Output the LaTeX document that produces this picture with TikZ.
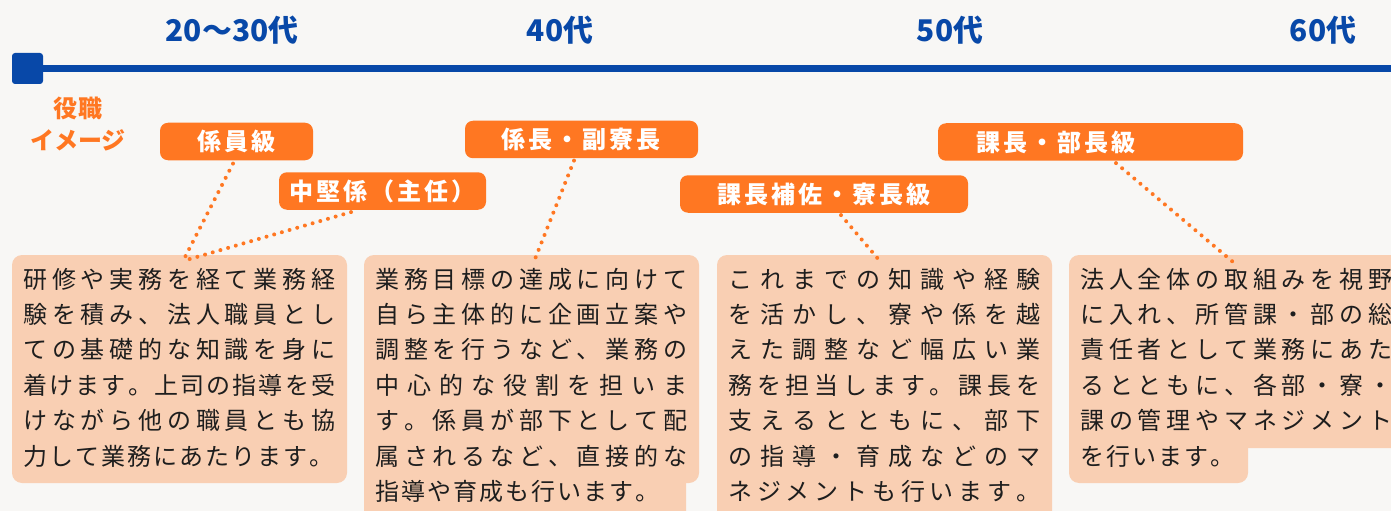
\documentclass[tikz,border=0pt]{standalone}
\usepackage{fontspec}
\setmainfont{Noto Sans CJK JP}

\definecolor{bgc}{HTML}{F8F7F5}
\definecolor{ageblue}{HTML}{0848A8}
\definecolor{roleorange}{HTML}{FF7722}
\definecolor{descpeach}{HTML}{F9CFB3}
\definecolor{desctext}{HTML}{1E1E1E}

\newdimen\chsp
\def\sprd#1#2\relax{#1\ifx\relax#2\relax\else\hskip\chsp plus 1fil\sprd#2\relax\fi}
\newcommand\fl[1]{\hbox to 6.24cm{\sprd#1\relax}}
\newcommand\natline[1]{\hbox{\sprd#1\relax}}

\tikzset{
  age/.style={text=ageblue, font=\fontsize{17pt}{20pt}\selectfont\bfseries},
  role/.style={fill=roleorange, rounded corners=0.16cm, text=white, inner sep=0pt, minimum height=0.75cm,
    font=\fontsize{13.66pt}{16pt}\selectfont\bfseries\setlength\chsp{0.06cm}},
  desc/.style={text=desctext, inner sep=0pt, font=\fontsize{13.66pt}{20.2pt}\selectfont\setlength\chsp{0.04cm}},
  descbox/.style={fill=descpeach, rounded corners=0.2cm},
  dots/.style={roleorange, line width=0.08cm, line cap=round, dash pattern=on 0pt off 0.16cm},
}

\begin{document}
\begin{tikzpicture}
  \useasboundingbox (0cm,0cm) rectangle (27.82cm,-10.22cm);
  \clip (0cm,0cm) rectangle (27.82cm,-10.22cm);
  \fill[bgc] (0cm,0cm) rectangle (27.82cm,-10.22cm);

  \node[fill=ageblue, rounded corners=0.06cm, minimum size=0.62cm, inner sep=0pt] (start) at (0.55cm,-1.37cm) {};
  \coordinate (tend) at (27.9cm,-1.37cm);
  \draw[ageblue, line width=0.14cm] (start.east) -- (tend);

  \node[age] (a20) at (4.64cm,-0.6cm) {20〜30代};
  \node[age] (a40) at (11.2cm,-0.6cm) {40代};
  \node[age] (a50) at (19cm,-0.6cm) {50代};
  \node[age] (a60) at (26.46cm,-0.6cm) {60代};

  \node[text=roleorange, align=center, font=\fontsize{13.66pt}{18.2pt}\selectfont\bfseries] (yakushoku) at (1.56cm,-2.48cm) {役職\\イメージ};

  \fill[descbox] (0.24cm,-5.1cm) rectangle (6.94cm,-9.66cm);
  \fill[descbox] (7.28cm,-5.1cm) rectangle (13.98cm,-9.66cm);
  \fill[descbox] (7.28cm,-9.3cm) rectangle (13.72cm,-10.6cm);
  \fill[descbox] (14.34cm,-5.1cm) rectangle (21.04cm,-10.6cm);
  \fill[descbox] (21.38cm,-5.1cm) rectangle (28.08cm,-8.96cm);
  \fill[descbox] (21.38cm,-8.6cm) rectangle (24.96cm,-9.66cm);

  \node[role, minimum width=3.06cm] (kakari) at (4.73cm,-2.83cm) {\natline{係員級}};
  \node[role, minimum width=4.14cm] (chuken) at (7.65cm,-3.82cm) {\natline{中堅係（主任）}};
  \node[role, minimum width=4.66cm] (kakaricho) at (11.63cm,-2.79cm) {\natline{係長・副寮長}};
  \node[role, minimum width=5.76cm] (hosa) at (16.48cm,-3.88cm) {\natline{課長補佐・寮長級}};
  \node[role, minimum width=6.1cm] (kacho) at (21.81cm,-2.84cm) {\natline{課長・部長級}\hspace*{1.38cm}};

  \coordinate (j1) at (3.66cm,-5.22cm);
  \coordinate (j2) at (10.7cm,-5.18cm);
  \coordinate (j3) at (17.58cm,-5.2cm);
  \coordinate (j4) at (24.66cm,-5.24cm);
  \draw[dots] ([xshift=-0.07cm,yshift=-0.06cm]kakari.south) -- (j1);
  \draw[dots] ([xshift=-0.63cm,yshift=-0.04cm]chuken.south) -- (j1);
  \draw[dots] ([xshift=-0.15cm,yshift=-0.04cm]kakaricho.south) -- (j2);
  \draw[dots] ([xshift=0.34cm,yshift=-0.04cm]hosa.south) -- (j3);
  \draw[dots] ([xshift=0.51cm,yshift=-0.04cm]kacho.south) -- (j4);

  \node[desc, anchor=base west] (d1) at (0.46cm,-5.76cm) {\vtop{%
    \fl{研修や実務を経て業務経}\fl{験を積み、法人職員とし}\fl{ての基礎的な知識を身に}%
    \fl{着けます。上司の指導を受}\fl{けながら他の職員とも協}\natline{力して業務にあたります。}}};
  \node[desc, anchor=base west] (d2) at (7.5cm,-5.76cm) {\vtop{%
    \fl{業務目標の達成に向けて}\fl{自ら主体的に企画立案や}\fl{調整を行うなど、業務の}%
    \fl{中心的な役割を担いま}\fl{す。係員が部下として配}\fl{属されるなど、直接的な}\natline{指導や育成も行います。}}};
  \node[desc, anchor=base west] (d3) at (14.56cm,-5.76cm) {\vtop{%
    \fl{これまでの知識や経験}\fl{を活かし、寮や係を越}\fl{えた調整など幅広い業}%
    \fl{務を担当します。課長を}\fl{支えるとともに、部下}\fl{の指導・育成などのマ}\fl{ネジメントも行います。}}};
  \node[desc, anchor=base west] (d4) at (21.6cm,-5.76cm) {\vtop{%
    \fl{法人全体の取組みを視野}\fl{に入れ、所管課・部の総}\fl{責任者として業務にあた}%
    \fl{るとともに、各部・寮・}\fl{課の管理やマネジメント}\natline{を行います。}}};
\end{tikzpicture}
\end{document}
